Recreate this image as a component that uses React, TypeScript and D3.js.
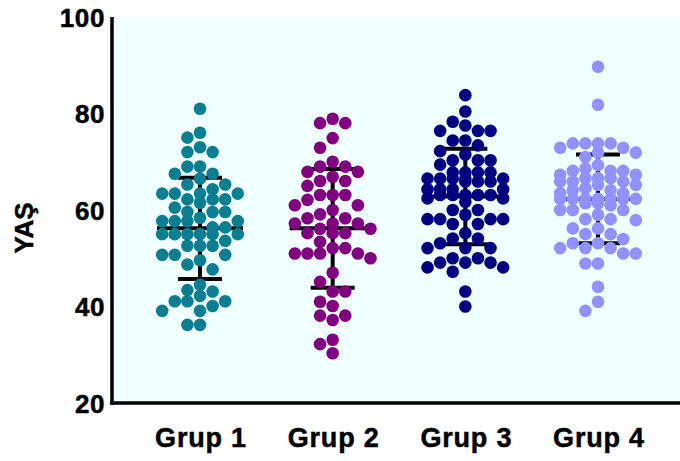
import React from "react";
import * as d3 from "d3";

// groups and colours
const groups = ["Grup 1", "Grup 2", "Grup 3", "Grup 4"];
const colors = ["#0b7f91", "#800080", "#000080", "#9191ff"];

// individual ages
const grup1 = [
  81, 76, 75, 73, 72, 72, 69, 69, 67.5, 67.5, 66.5, 65.3, 65.3, 64.3, 63.4, 63.4, 63.4, 63.4,
  62.2, 62.2, 62.2, 61.5, 60.5, 59.6, 59.6, 59.6, 58.4, 57.7, 57.7, 57.7, 57.7, 56.4, 56.4,
  55, 55, 55, 55, 55, 55, 53.6, 52.6, 52.6, 52.6, 50.7, 50.7, 50.7, 49.6, 48.7, 47.7, 44.5,
  43.4, 43.1, 42.2, 41.1, 41.1, 41.1, 40.1, 39.1, 39.1, 36.2, 36.2,
];
const grup2 = [
  78.9, 78, 78, 74.9, 72.9, 70, 69, 69, 67.9, 67.9, 66.9, 66, 66, 65, 63.1, 63.1, 63.1, 62.1,
  61, 61, 60, 59.1, 58.3, 58.3, 57.2, 57.2, 57.2, 56.1, 56.1, 55.2, 55.2, 55.2, 53.4, 52.1,
  52.1, 51, 51, 51, 51, 50, 47, 45.1, 43.1, 43.1, 41, 40.1, 38.1, 38.1, 37.2, 33.1, 32.2, 30.3,
];
const grup3 = [
  83.8, 80.4, 78.3, 77.5, 76.4, 76.4, 76.4, 74.4, 74.4, 73.4, 72.2, 71.5, 70.3, 70.3, 70.3,
  69.4, 67.8, 67.8, 67.8, 67.8, 66.5, 66.5, 66.5, 66.5, 66.5, 65.9, 65.9, 65.9, 64.3, 64.3,
  64.3, 64.3, 63.1, 63.1, 63.1, 63.1, 63.1, 62.4, 62.4, 61.7, 60, 60, 59, 58.1, 58.1, 58.1,
  58.1, 57.1, 57.1, 55.2, 54.1, 54.1, 53.1, 52.1, 52.1, 52.1, 50, 50, 49.1, 49.1, 49.1, 48.1,
  48.1, 47.2, 43.1, 40,
];
const grup4 = [
  89.7, 81.8, 73.8, 73.8, 73.8, 73.8, 72.9, 72.9, 71.9, 71.9, 71, 69.3, 68.6, 68.1, 68.1, 68.1,
  67.3, 67.3, 66.6, 66.6, 66.6, 65.9, 65.9, 65.9, 65.2, 65.2, 64.5, 64.1, 64.1, 63.5, 63.5,
  62.3, 62.3, 62.3, 62.3, 62.3, 62.3, 62.3, 61.4, 61.4, 61, 60, 60, 60, 59, 58.1, 58.1, 57.9,
  56.2, 56.2, 55, 55, 54, 53.1, 53.1, 52.1, 52.1, 52.1, 51, 51, 48.9, 48.9, 44.1, 41, 39.1,
];
const series = [grup1, grup2, grup3, grup4];

// mean and SD as shown by the error bars
const means = [56.2, 56.2, 62.8, 62.3];
const sds = [10.5, 12.3, 9.9, 9.2];

const yTicks = [20, 40, 60, 80, 100];

const width = 680;
const height = 461;
const left = 112;
const top = 17;
const bottom = 403;

const y = d3.scaleLinear().domain([20, 100]).range([bottom, top]);
const x = d3.scalePoint<string>().domain(groups).range([200, 598]);

const r = 6.3;
const colStep = 12.6;
const colOrder = [0, -1, 1, -2, 2, -3, 3];

// prism-like column swarm: each dot goes to the nearest free column
function swarm(values: number[]) {
  const sorted = [...values].sort((a, b) => b - a);
  const placed: { col: number; py: number }[] = [];
  return sorted.map((v) => {
    const py = y(v);
    let best = 0;
    let bestGap = -1;
    for (const c of colOrder) {
      let gap = Infinity;
      placed.forEach((p) => {
        if (p.col === c) gap = Math.min(gap, Math.abs(p.py - py));
      });
      if (gap >= 11) {
        best = c;
        bestGap = gap;
        break;
      }
      if (gap > bestGap) {
        bestGap = gap;
        best = c;
      }
    }
    placed.push({ col: best, py });
    return { dx: best * colStep, py };
  });
}

const font = "'Liberation Sans', Arial, sans-serif";

export default function App() {
  return (
    <svg
      width={width}
      height={height}
      style={{ position: "absolute", left: 0, top: 0, display: "block" }}
      fontFamily={font}
    >
      <rect x={left} y={top} width={width - left} height={bottom - top} fill="#f0ffff" />

      {groups.map((g, i) => {
        const cx = x(g) as number;
        const m = means[i];
        const s = sds[i];
        return (
          <g key={"eb" + g} stroke="#000" strokeWidth={4} fill="none">
            <line x1={cx} x2={cx} y1={y(m + s)} y2={y(m - s)} />
            <line x1={cx - 43} x2={cx + 43} y1={y(m)} y2={y(m)} />
            <line x1={cx - 22} x2={cx + 22} y1={y(m + s)} y2={y(m + s)} />
            <line x1={cx - 22} x2={cx + 22} y1={y(m - s)} y2={y(m - s)} />
          </g>
        );
      })}

      {series.map((vals, i) => {
        const cx = x(groups[i]) as number;
        return (
          <g key={"pts" + i} fill={colors[i]}>
            {swarm(vals).map((p, j) => (
              <circle key={j} cx={cx + p.dx} cy={p.py} r={r} />
            ))}
          </g>
        );
      })}

      <line x1={left} x2={left} y1={top} y2={bottom + 2} stroke="#000" strokeWidth={3.5} />
      <line x1={left - 1.7} x2={width} y1={bottom} y2={bottom} stroke="#000" strokeWidth={3.5} />

      <g fill="#000" stroke="#000" strokeWidth={0.5} fontWeight="bold">
        {yTicks.map((t) => (
          <text key={t} x={105} y={y(t) + 9.5} textAnchor="end" fontSize={26} letterSpacing={0.6}>
            {t}
          </text>
        ))}

        {groups.map((g) => (
          <text
            key={g}
            x={(x(g) as number) + 1}
            y={447}
            textAnchor="middle"
            fontSize={27}
            letterSpacing={0.8}
          >
            {g}
          </text>
        ))}

        <text transform={`translate(33,228) rotate(-90)`} textAnchor="middle" fontSize={26}>
          YAŞ
        </text>
      </g>
    </svg>
  );
}
